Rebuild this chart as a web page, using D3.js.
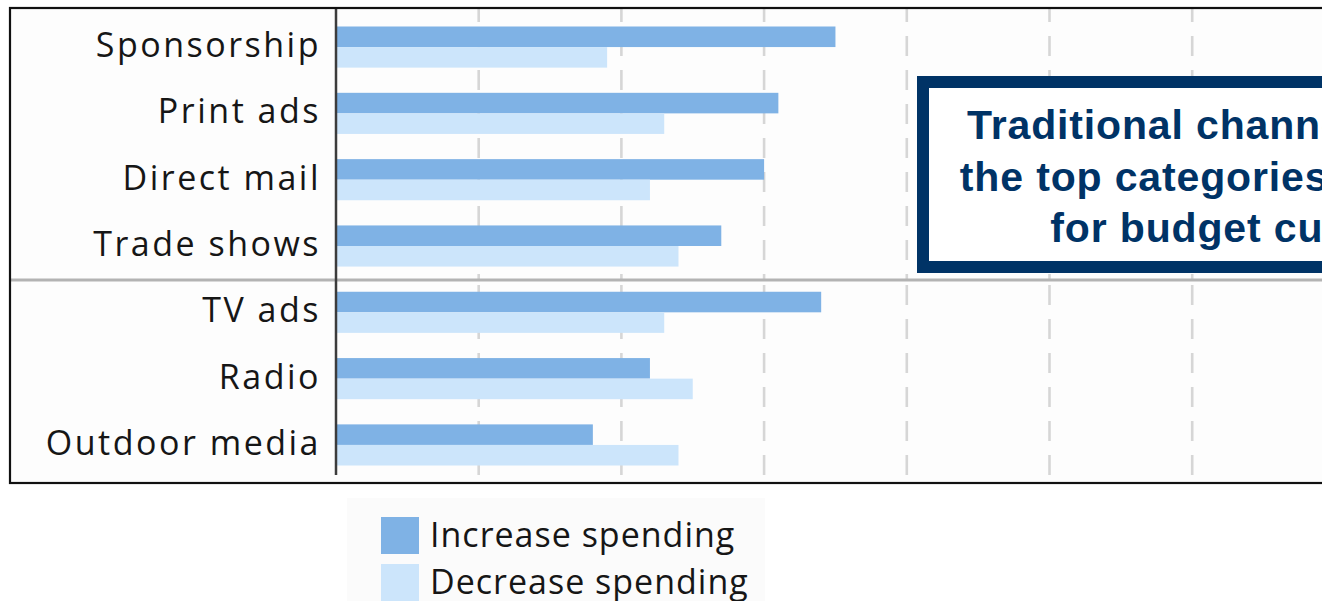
<!DOCTYPE html>
<head>
  <meta charset="utf-8">
  <style>
    body { margin: 0; background: #fff; }
    svg { display: block; }

    svg .grid {
      stroke: #d6d6d6;
      stroke-width: 2.6px;
      stroke-dasharray: 20 14;
    }

    svg .label {
      font: 34px "Open Sans";
      letter-spacing: 2.5px;
      fill: #161616;
    }

    svg .legend text {
      font: 34px "Open Sans";
      letter-spacing: 1px;
      fill: #161616;
    }

    svg .note text {
      font: bold 41px "Liberation Sans", Arial;
      letter-spacing: 0.85px;
      fill: #003366;
      text-anchor: middle;
    }
  </style>
</head>

<body>
<script src="https://d3js.org/d3.v7.min.js"></script>

<script>
  // share of respondents (%)
  var categories = ["Sponsorship", "Print ads", "Direct mail", "Trade shows",
                    "TV ads", "Radio", "Outdoor media"];
  var increase = [35, 31, 30, 27, 34, 22, 18];
  var decrease = [19, 23, 22, 24, 23, 25, 24];
  var gridTicks = [10, 20, 30, 40, 50, 60];
  var seriesNames = ["Increase spending", "Decrease spending"];
  var noteLines = ["Traditional channels are", "the top categories slated", "for budget cuts."];

  var W = 1322, H = 601,
      frameTop = 8, frameBottom = 483, frameLeft = 10,
      splitY = 280,       // line between the two groups of channels
      colors = ["#7fb2e5", "#cce5fb"];

  var svg = d3.select("body")
    .append("svg")
      .attr("width", W)
      .attr("height", H);

  // scales
  var xScale = d3.scaleLinear().domain([0, 70]).range([336, 336 + 70 * 14.27]);
  var yScale = d3.scaleBand()
      .domain(categories)
      .range([13.9, 478.1])
      .paddingInner(0.38)
      .paddingOuter(0.19);
  var ySub = d3.scaleBand()
      .domain([0, 1])
      .range([0, yScale.bandwidth()]);

  // plot background
  svg.append("rect")
      .attr("x", frameLeft)
      .attr("y", frameTop)
      .attr("width", W)
      .attr("height", frameBottom - frameTop)
      .style("fill", "#fdfdfd");

  // dashed grid, drawn separately above and below the split so the dashes restart
  var grid = svg.append("g");
  grid.selectAll("line.top")
    .data(gridTicks)
    .enter().append("line")
      .classed("grid", true)
      .attr("x1", function (d) { return xScale(d); })
      .attr("x2", function (d) { return xScale(d); })
      .attr("y1", frameTop)
      .attr("y2", splitY)
      .style("stroke-dashoffset", 6);
  grid.selectAll("line.bottom")
    .data(gridTicks)
    .enter().append("line")
      .classed("grid", true)
      .attr("x1", function (d) { return xScale(d); })
      .attr("x2", function (d) { return xScale(d); })
      .attr("y1", splitY + 1)
      .attr("y2", frameBottom)
      .style("stroke-dashoffset", -4);

  // bars
  var rows = categories.map(function (c, i) {
    return { name: c, values: [increase[i], decrease[i]] };
  });

  var groups = svg.selectAll("g.row")
    .data(rows)
    .enter().append("g")
      .attr("class", "row")
      .attr("transform", function (d) { return "translate(0," + yScale(d.name) + ")"; });

  groups.selectAll("rect")
    .data(function (d) { return d.values; })
    .enter().append("rect")
      .attr("x", xScale(0))
      .attr("y", function (d, i) { return ySub(i); })
      .attr("width", function (d) { return xScale(d) - xScale(0); })
      .attr("height", ySub.bandwidth())
      .style("fill", function (d, i) { return colors[i]; });

  // category labels
  groups.append("text")
      .classed("label", true)
      .attr("x", 321)
      .attr("y", yScale.bandwidth() / 2 + 10)
      .style("text-anchor", "end")
      .text(function (d) { return d.name; });

  // split line between the two groups
  svg.append("line")
      .attr("x1", frameLeft)
      .attr("x2", W)
      .attr("y1", splitY)
      .attr("y2", splitY)
      .style("stroke", "#b3b3b3")
      .style("stroke-width", "3px");

  // vertical axis line
  svg.append("line")
      .attr("x1", xScale(0))
      .attr("x2", xScale(0))
      .attr("y1", frameTop)
      .attr("y2", 475)
      .style("stroke", "#3c3c3c")
      .style("stroke-width", "2.5px");

  // outer frame
  svg.append("rect")
      .attr("x", frameLeft)
      .attr("y", frameTop)
      .attr("width", W + 100)
      .attr("height", frameBottom - frameTop)
      .style("fill", "none")
      .style("stroke", "#111")
      .style("stroke-width", "2.2px");

  // callout box (runs past the right edge, as in the source)
  var note = svg.append("g").attr("class", "note");
  note.append("rect")
      .attr("x", 923)
      .attr("y", 82)
      .attr("width", 578)
      .attr("height", 185)
      .style("fill", "#fff")
      .style("stroke", "#003366")
      .style("stroke-width", "12px");
  note.selectAll("text")
    .data(noteLines)
    .enter().append("text")
      .attr("x", 1212)
      .attr("y", function (d, i) { return 139 + i * 51.5; })
      .text(function (d) { return d; });

  // legend
  var legend = svg.append("g").attr("class", "legend");
  legend.append("rect")
      .attr("x", 347)
      .attr("y", 498)
      .attr("width", 418)
      .attr("height", 110)
      .style("fill", "#fbfbfb");

  var items = legend.selectAll("g.item")
    .data(seriesNames)
    .enter().append("g")
      .attr("class", "item")
      .attr("transform", function (d, i) { return "translate(381," + (517 + i * 47) + ")"; });

  items.append("rect")
      .attr("width", 38)
      .attr("height", 37)
      .style("fill", function (d, i) { return colors[i]; });

  items.append("text")
      .attr("x", 49)
      .attr("y", 30)
      .text(function (d) { return d; });

</script>
</body>
</html>
